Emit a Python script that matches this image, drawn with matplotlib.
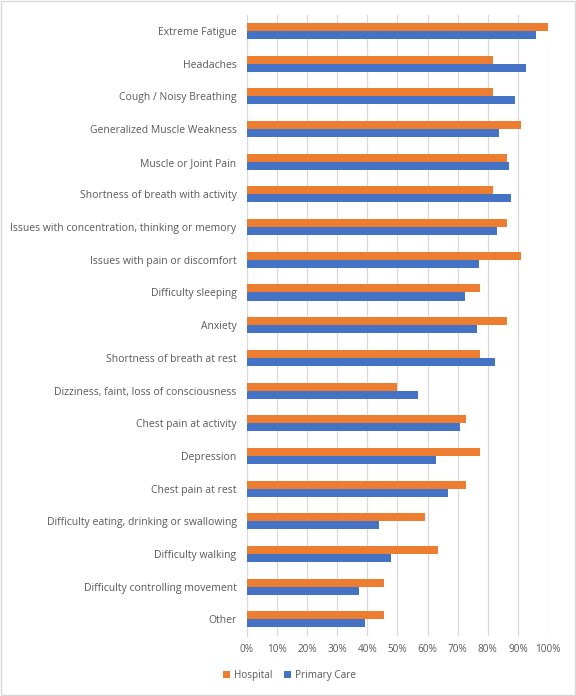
import numpy as np
import matplotlib.pyplot as plt
from matplotlib.patches import Rectangle

categories = [
    "Extreme Fatigue", "Headaches", "Cough / Noisy Breathing",
    "Generalized Muscle Weakness", "Muscle or Joint Pain",
    "Shortness of breath with activity",
    "Issues with concentration, thinking or memory",
    "Issues with pain or discomfort", "Difficulty sleeping", "Anxiety",
    "Shortness of breath at rest", "Dizziness, faint, loss of consciousness",
    "Chest pain at activity", "Depression", "Chest pain at rest",
    "Difficulty eating, drinking or swallowing", "Difficulty walking",
    "Difficulty controlling movement", "Other",
]
hospital = [100.0, 81.8, 81.8, 90.9, 86.4, 81.8, 86.4, 90.9, 77.3, 86.4,
            77.3, 50.0, 72.7, 77.3, 72.7, 59.1, 63.6, 45.5, 45.5]
primary_care = [96.1, 92.8, 89.1, 83.8, 87.1, 87.8, 83.1, 77.2, 72.5, 76.5,
                82.5, 56.9, 70.8, 62.9, 66.9, 43.9, 47.9, 37.3, 39.2]

orange = "#ED7D31"
blue = "#4472C4"
txt = "#595959"

plt.rcParams['font.family'] = ['Open Sans', 'DejaVu Sans']

fig = plt.figure(figsize=(5.76, 6.96), dpi=100)
ax = fig.add_axes([0.4288, 0.0868, 0.5226, 0.892])

y = np.arange(len(categories))
h = 0.245
ax.barh(y - h / 2, hospital, height=h, color=orange, label="Hospital", zorder=3)
ax.barh(y + h / 2, primary_care, height=h, color=blue, label="Primary Care", zorder=3)

ax.set_ylim(len(categories) - 0.5, -0.5)
ax.set_xlim(0, 100)
ax.set_xticks(np.arange(0, 101, 10))
ax.set_xticklabels([f"{v}%" for v in range(0, 101, 10)])
ax.set_yticks(y)
ax.set_yticklabels(categories)
ax.tick_params(axis='both', length=0, labelsize=7.2, colors=txt)
ax.tick_params(axis='y', pad=7.5, labelsize=7.45)
ax.tick_params(axis='x', pad=6)
ax.grid(axis='x', color="#D9D9D9", linewidth=0.9, zorder=0)
for s in ["top", "right", "bottom"]:
    ax.spines[s].set_visible(False)
ax.spines["left"].set_color("#D9D9D9")

fig.legend(loc="center", bbox_to_anchor=(0.503, 0.029), ncol=2, frameon=False,
           fontsize=7.2, handlelength=0.7, handleheight=0.7, columnspacing=1.2,
           handletextpad=0.4, labelcolor=txt)

fig.patches.append(Rectangle((0.001, 0.001), 0.997, 0.997, transform=fig.transFigure,
                             fill=False, edgecolor="#D9D9D9", linewidth=1))

fig.savefig("out.png", dpi=100)
